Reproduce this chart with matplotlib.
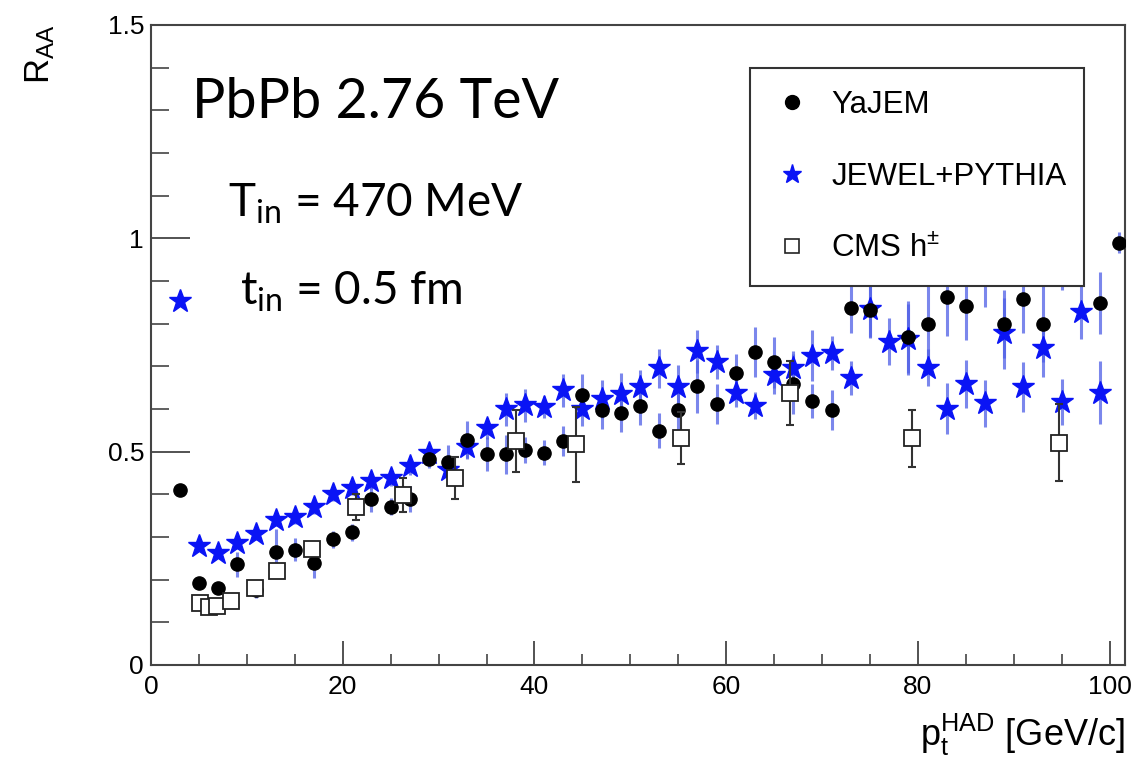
import matplotlib
matplotlib.use("Agg")
import matplotlib.pyplot as plt
from matplotlib.ticker import MultipleLocator
from matplotlib.lines import Line2D

# ---------------- data ----------------
yajem_x = [3, 5, 7, 9, 11, 13, 15, 17, 19, 21, 23, 25, 27, 29, 31, 33, 35, 37, 39, 41,
           43, 45, 47, 49, 51, 53, 55, 57, 59, 61, 63, 65, 67, 69, 71, 73, 75, 77, 79, 81,
           83, 85, 87, 89, 91, 93, 95, 99, 101]
yajem_y = [0.41, 0.193, 0.18, 0.236, 0.176, 0.264, 0.27, 0.238, 0.295, 0.311, 0.389, 0.371,
           0.389, 0.482, 0.476, 0.527, 0.494, 0.494, 0.504, 0.498, 0.525, 0.633, 0.598, 0.59,
           0.608, 0.549, 0.598, 0.653, 0.612, 0.685, 0.733, 0.709, 0.658, 0.619, 0.598, 0.837,
           0.832, 0.96, 0.768, 0.799, 0.862, 0.841, 0.905, 0.799, 0.858, 0.799, 0.96,
           0.848, 0.99]
yajem_err = [0.01, 0.01, 0.012, 0.03, 0.02, 0.055, 0.027, 0.035, 0.02, 0.02, 0.03, 0.02,
             0.03, 0.02, 0.04, 0.045, 0.04, 0.046, 0.03, 0.03, 0.035, 0.05, 0.045, 0.045,
             0.045, 0.041, 0.05, 0.062, 0.047, 0.045, 0.059, 0.06, 0.07, 0.04, 0.047, 0.06,
             0.065, 0.07, 0.084, 0.1, 0.09, 0.08, 0.065, 0.08, 0.08, 0.09, 0.08,
             0.072, 0.025]

jewel_x = [3, 5, 7, 9, 11, 13, 15, 17, 19, 21, 23, 25, 27, 29, 31, 33, 35, 37, 39, 41,
           43, 45, 47, 49, 51, 53, 55, 57, 59, 61, 63, 65, 67, 69, 71, 73, 75, 77, 79, 81,
           83, 85, 87, 89, 91, 93, 95, 97, 99]
jewel_y = [0.853, 0.28, 0.262, 0.285, 0.306, 0.34, 0.346, 0.37, 0.40, 0.416, 0.432, 0.439,
           0.466, 0.497, 0.457, 0.51, 0.555, 0.599, 0.609, 0.605, 0.644, 0.60, 0.623, 0.634,
           0.652, 0.695, 0.652, 0.735, 0.71, 0.638, 0.608, 0.68, 0.695, 0.725, 0.732, 0.673,
           0.834, 0.758, 0.763, 0.697, 0.601, 0.659, 0.613, 0.777, 0.652, 0.742, 0.617,
           0.828, 0.638]
jewel_err = [0.005, 0.01, 0.01, 0.012, 0.012, 0.015, 0.015, 0.015, 0.015, 0.018, 0.02, 0.02,
             0.02, 0.02, 0.025, 0.025, 0.025, 0.039, 0.039, 0.025, 0.039, 0.04, 0.045, 0.05,
             0.04, 0.045, 0.05, 0.05, 0.039, 0.033, 0.031, 0.045, 0.04, 0.06, 0.04, 0.04,
             0.065, 0.055, 0.084, 0.043, 0.06, 0.057, 0.055, 0.084, 0.058, 0.066, 0.054,
             0.065, 0.074]

cms_x = [5.1, 6.05, 6.85, 8.35, 10.85, 13.1, 16.8, 21.4, 26.3, 31.7, 38.1, 44.3, 55.3,
         66.7, 79.4, 94.7]
cms_y = [0.145, 0.135, 0.139, 0.15, 0.18, 0.221, 0.273, 0.37, 0.398, 0.438, 0.525, 0.517,
         0.532, 0.638, 0.531, 0.521]
cms_err = [0.008, 0.008, 0.008, 0.008, 0.01, 0.012, 0.015, 0.03, 0.04, 0.05, 0.073, 0.088,
           0.06, 0.075, 0.066, 0.09]

x_ticks = [0, 20, 40, 60, 80, 100]
y_ticks = [0, 0.5, 1, 1.5]
y_ticklabels = ["0", "0.5", "1", "1.5"]

# ---------------- figure ----------------
plt.rcParams['font.family'] = ['Liberation Sans', 'DejaVu Sans']
plt.rcParams['mathtext.default'] = 'regular'

W, H = 1132, 757
fig = plt.figure(figsize=(W / 100, H / 100), dpi=100)
ax = fig.add_axes([151 / W, (H - 665) / H, 974 / W, 640 / H])

ax.set_xlim(0, 101.6)
ax.set_ylim(0, 1.5)

bar_blue = '#4f5fe6'
ax.errorbar(yajem_x, yajem_y, yerr=yajem_err, fmt='none', ecolor=bar_blue, elinewidth=2.2,
            alpha=0.75, zorder=2)
ax.errorbar(jewel_x, jewel_y, yerr=jewel_err, fmt='none', ecolor=bar_blue, elinewidth=2.2,
            alpha=0.75, zorder=2)
ax.plot(jewel_x, jewel_y, ls='none', marker='*', ms=17, color='#0a14f5',
        markeredgecolor='#0a14f5', zorder=3)
ax.plot(yajem_x, yajem_y, ls='none', marker='o', ms=9.5, color='black', zorder=4)
ax.errorbar(cms_x, cms_y, yerr=cms_err, fmt='none', ecolor='#333333', elinewidth=1.5,
            capsize=3, capthick=1.5, zorder=5)
ax.plot(cms_x, cms_y, ls='none', marker='s', ms=11, markerfacecolor='white',
        markeredgecolor='#222222', markeredgewidth=1.3, zorder=6)

# ticks ROOT style
ax.set_xticks(x_ticks)
ax.set_yticks(y_ticks)
ax.set_yticklabels(y_ticklabels)
ax.xaxis.set_minor_locator(MultipleLocator(5))
ax.yaxis.set_minor_locator(MultipleLocator(0.1))
ax.tick_params(axis='both', which='major', direction='in', width=1.3,
               color='#444444', labelsize=19, top=False, right=False)
ax.tick_params(axis='x', which='major', length=17, pad=7)
ax.tick_params(axis='y', which='major', length=28, pad=5)
ax.tick_params(axis='x', which='minor', direction='in', length=8, width=1.2, color='#444444')
ax.tick_params(axis='y', which='minor', direction='in', length=13, width=1.2, color='#444444')
for s in ax.spines.values():
    s.set_color('#444444')
    s.set_linewidth(1.5)

# axis labels
fig.text(1125 / W, 1 - 735 / H, r'$p_{t}^{HAD}$ [GeV/c]', ha='right', va='center',
         fontsize=26)
fig.text(40 / W, 1 - 54 / H, r'$R_{AA}$', rotation=90, ha='center', va='center',
         fontsize=25)

# annotations
fig.text(192 / W, 1 - 118 / H, 'PbPb 2.76 TeV', family='Lato', fontsize=40,
         va='baseline', ha='left')
fig.text(228 / W, 1 - 217 / H, r'T$_{in}$ = 470 MeV', family='Lato', fontsize=33,
         va='baseline', ha='left')
fig.text(240 / W, 1 - 305 / H, r't$_{in}$ = 0.5 fm', family='Lato', fontsize=33,
         va='baseline', ha='left')

# legend
handles = [
    Line2D([], [], ls='none', marker='o', ms=10, color='black'),
    Line2D([], [], ls='none', marker='*', ms=14, color='#0a14f5'),
    Line2D([], [], ls='none', marker='s', ms=10, markerfacecolor='white',
           markeredgecolor='#222222', markeredgewidth=1.2),
]
labels = ['YaJEM', 'JEWEL+PYTHIA', r'CMS h$^{\pm}$']
x0 = (750 - 151) / 974
y1 = (665 - 68) / 640
w = (1084 - 750) / 974
leg = ax.legend(handles, labels, loc='upper left', bbox_to_anchor=(x0, y1, w, 0.0),
                mode='expand', fontsize=22.5, frameon=True, fancybox=False,
                edgecolor='#333333', framealpha=1.0, labelspacing=1.35,
                handlelength=1.3, handletextpad=0.6, borderpad=0.7, borderaxespad=0)
leg.get_frame().set_linewidth(1.5)
leg.set_zorder(10)

fig.savefig('out.png', dpi=100)
